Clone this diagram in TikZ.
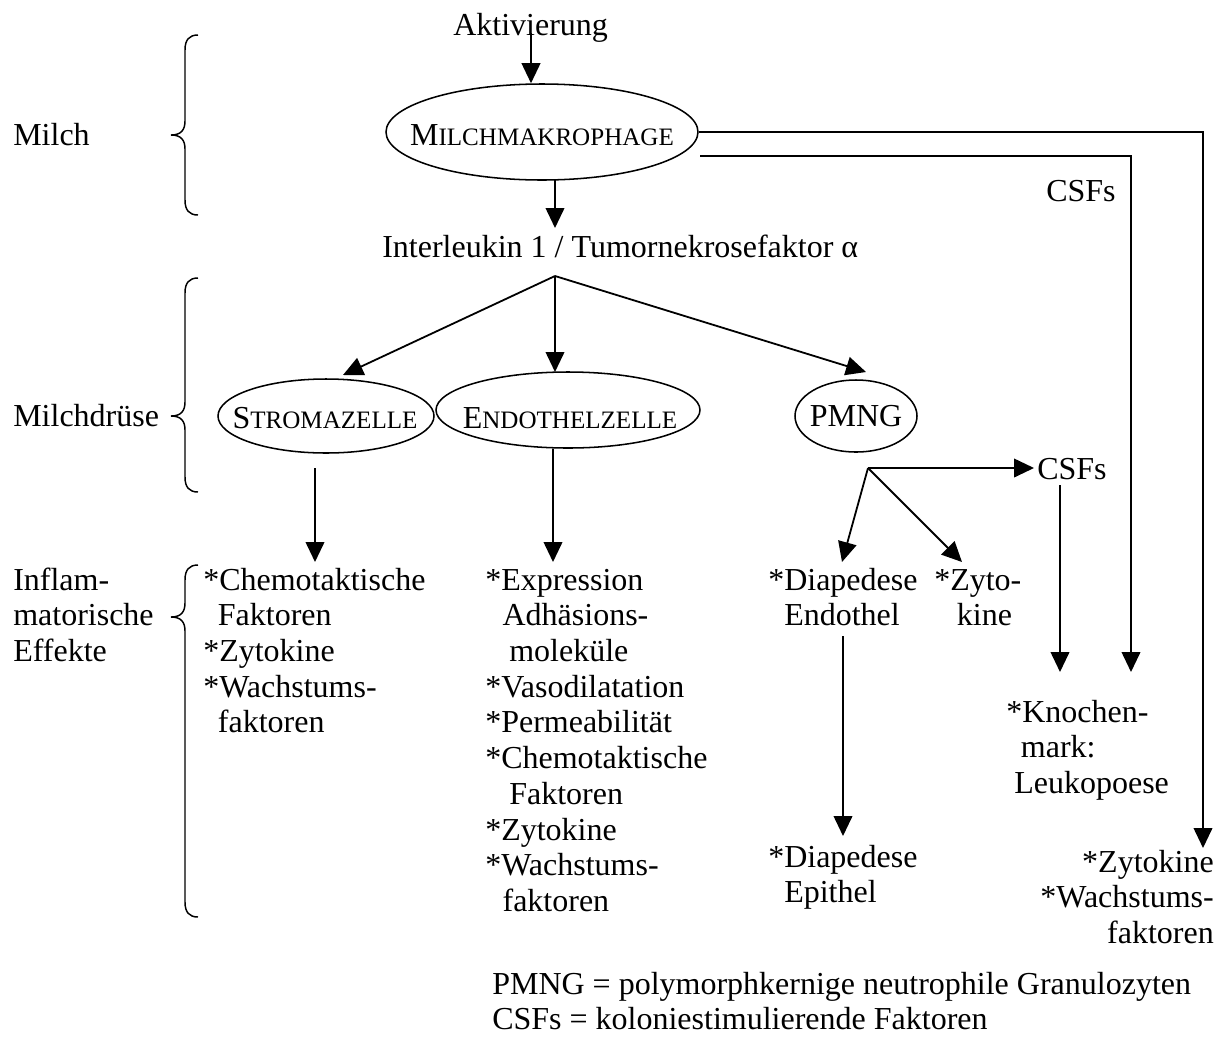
\documentclass[tikz,border=0pt]{standalone}
\usepackage{fontspec}
\setmainfont{Liberation Serif}
\usetikzlibrary{arrows.meta,shapes.geometric}
\newcommand{\fsc}[2]{#1{\fontsize{18.8pt}{20pt}\selectfont #2}}
\newcommand{\lstl}[1]{\begin{tabular}[t]{@{}l@{}}#1\end{tabular}}
\newcommand{\lstr}[1]{\begin{tabular}[t]{@{}r@{}}#1\end{tabular}}
\begin{document}
\begin{tikzpicture}[x=0.75pt,y=-0.75pt,
  font=\fontsize{24pt}{26.8pt}\selectfont,
  arr/.style={-{Triangle[length=15pt,width=14pt]}, line width=1.35pt},
  ell/.style={draw, ellipse, line width=1.15pt, inner sep=0pt},
  txt/.style={inner sep=0pt, anchor=base west},
  txtc/.style={inner sep=0pt, anchor=base},
  txte/.style={inner sep=0pt, anchor=base east},
  brace/.style={line width=1.1pt}]
\useasboundingbox (0,0) rectangle (1227,1036);

% left labels
\node[txt] (lmilch) at (13,145) {Milch};
\node[txt] (ldruese) at (13,426) {Milchdrüse};
\node[txt] (linfl) at (13,590) {\lstl{Inflam-\\matorische\\Effekte}};

% braces
\foreach \t/\m/\b in {35/135/215, 278/416/492, 565/617/917}{
  \draw[brace] (198,\t) .. controls (189,\t) and (185,\t+5) .. (185,\t+15)
    -- (185,\m-14) .. controls (185,\m-5) and (181,\m) .. (171,\m)
    .. controls (181,\m) and (185,\m+5) .. (185,\m+14)
    -- (185,\b-15) .. controls (185,\b-5) and (189,\b) .. (198,\b);
}

% top
\node[txt] (akt) at (453,35) {Aktivierung};
\node[ell, minimum width=234pt, minimum height=72pt] (milch) at (542,132) {};
\node[txtc] (milcht) at (542,145) {\fsc{M}{ILCHMAKROPHAGE}};
\node[txt] (il) at (382,257) {Interleukin 1 / Tumornekrosefaktor α};

% cells
\node[ell, minimum width=162pt, minimum height=55.5pt] (stroma) at (326,416) {};
\node[txtc] (stromat) at (325,428) {\fsc{S}{TROMAZELLE}};
\node[ell, minimum width=198pt, minimum height=57pt] (endo) at (568,410) {};
\node[txtc] (endot) at (570,428) {\fsc{E}{NDOTHELZELLE}};
\node[ell, minimum width=91.5pt, minimum height=54pt] (pmng) at (856,416) {};
\node[txtc] (pmngt) at (856,426) {PMNG};

% lists
\node[txt] (stromal) at (203,590) {\lstl{*Chemotaktische\\\hspace*{11pt}Faktoren\\{}*Zytokine\\{}*Wachstums-\\\hspace*{11pt}faktoren}};
\node[txt] (endol) at (485,590) {\lstl{*Expression\\\hspace*{13pt}Adhäsions-\\\hspace*{18pt}moleküle\\{}*Vasodilatation\\{}*Permeabilität\\{}*Chemotaktische\\\hspace*{18pt}Faktoren\\{}*Zytokine\\{}*Wachstums-\\\hspace*{13pt}faktoren}};
\node[txt] (diap1) at (768,590) {\lstl{*Diapedese\\\hspace*{12pt}Endothel}};
\node[txt] (zyto) at (934,590) {\lstl{*Zyto-\\\hspace*{17pt}kine}};
\node[txt] (csf2) at (1037,479) {CSFs};
\node[txt] (csf1) at (1046,201) {CSFs};
\node[txt] (diap2) at (768,867) {\lstl{*Diapedese\\\hspace*{12pt}Epithel}};
\node[txt] (knochen) at (1006,722) {\lstl{*Knochen-\\\hspace*{11pt}mark:\\\hspace*{6pt}Leukopoese}};
\node[txte] (rightl) at (1214,872) {\lstr{*Zytokine\\{}*Wachstums-\\faktoren}};
\node[txt] (legend) at (492,994) {\lstl{PMNG = polymorphkernige neutrophile Granulozyten\\CSFs = koloniestimulierende Faktoren}};

% coordinates
\coordinate (aktS) at (531,33);
\coordinate (milchS) at (555,180);
\coordinate (ilN) at (555,228);
\coordinate (apex) at (555,276);
\coordinate (stromaN) at (343,375);
\coordinate (endoN) at (555,372);
\coordinate (pmngN) at (866,372);
\coordinate (stromaS) at (315,468);
\coordinate (stromalN) at (315,562);
\coordinate (endoS) at (553,449);
\coordinate (endolN) at (553,562);
\coordinate (papex) at (868,468);
\coordinate (csf2W) at (1034,468);
\coordinate (diap1N) at (842,562);
\coordinate (zytoN) at (962,562);
\coordinate (csf2S) at (1060,485);
\coordinate (knoN1) at (1060,672);
\coordinate (knoN2) at (1131,672);
\coordinate (diap1S) at (843,636);
\coordinate (diap2N) at (843,836);
\coordinate (rightN) at (1203,848);
\coordinate (lowS) at (700,156);

% connectors
\draw[arr] (aktS) -- (aktS |- milch.north);
\draw[arr] (milchS) -- (ilN);
\draw[arr] (apex) -- (stromaN);
\draw[arr] (apex) -- (endoN);
\draw[arr] (apex) -- (pmngN);
\draw[arr] (stromaS) -- (stromalN);
\draw[arr] (endoS) -- (endolN);
\draw[arr] (papex) -- (csf2W);
\draw[arr] (papex) -- (diap1N);
\draw[arr] (papex) -- (zytoN);
\draw[arr] (csf2S) -- (knoN1);
\draw[arr] (diap1S) -- (diap2N);
\draw[arr] (milch.east) -- (rightN |- milch.east) -- (rightN);
\draw[arr] (lowS) -- (knoN2 |- lowS) -- (knoN2);
\end{tikzpicture}
\end{document}
